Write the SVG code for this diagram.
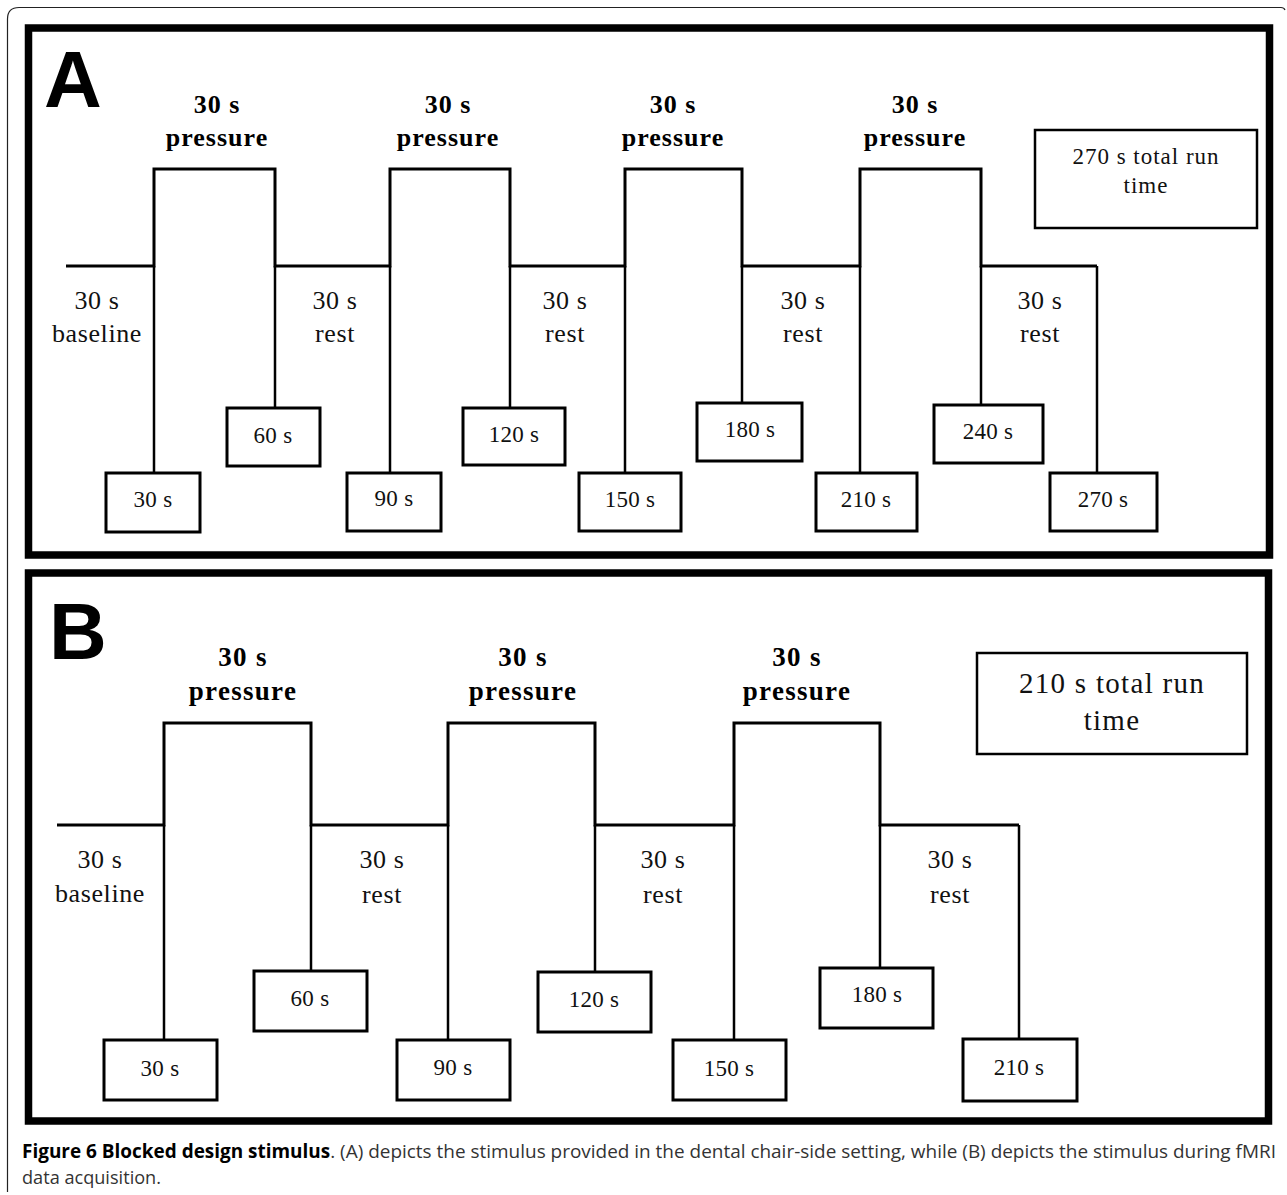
<svg xmlns="http://www.w3.org/2000/svg" width="1287" height="1195" viewBox="0 0 1287 1195">
<style>
.frame{fill:none;stroke:#000;stroke-width:7.5}
.box{fill:#fff;stroke:#000;stroke-width:3}
.tbox{fill:#fff;stroke:#000;stroke-width:2.5}
.wave{fill:none;stroke:#000;stroke-width:3;stroke-linejoin:miter}
.drop{fill:none;stroke:#000;stroke-width:2.5}
.bt{font-family:"Liberation Serif",serif;font-weight:bold;font-size:26px;letter-spacing:1px;text-anchor:middle;fill:#000}
.btb{font-family:"Liberation Serif",serif;font-weight:bold;font-size:27px;letter-spacing:1.3px;text-anchor:middle;fill:#000}
.rt{font-family:"Liberation Serif",serif;font-size:26px;letter-spacing:0.6px;text-anchor:middle;fill:#111}
.bx{font-family:"Liberation Serif",serif;font-size:23px;letter-spacing:0.3px;text-anchor:middle;fill:#111}
.tt{font-family:"Liberation Serif",serif;font-size:23px;letter-spacing:1px;text-anchor:middle;fill:#111}
.ttb{font-family:"Liberation Serif",serif;font-size:29px;letter-spacing:1.3px;text-anchor:middle;fill:#111}
.letter{font-family:"Liberation Sans",Arial,sans-serif;font-weight:bold;font-size:80px;fill:#000}
.cap{font-family:"Open Sans",sans-serif;font-size:19px;fill:#333}
</style>
<rect width="1287" height="1195" fill="#fff"/>
<path d="M7.5,1192 V19 Q7.5,7.5 19,7.5 H1281 Q1284,7.5 1285,10" fill="none" stroke="#222" stroke-width="1.2"/>

<g id="panelA">
<rect class="frame" x="28.5" y="28" width="1241" height="527"/>
<text class="letter" x="44" y="107">A</text>
</g>
<g id="panelB">
<rect class="frame" x="28.5" y="573" width="1240" height="548"/>
<text class="letter" x="49" y="659">B</text>
</g>

<g id="connectors">
<path class="wave" d="M66,266 H154 V169 H275 V266 H390 V169 H510 V266 H625 V169 H742 V266 H860 V169 H981 V266 H1097"/>
<path class="drop" d="M1097,266 V472 M154,266 V472 M275,266 V407 M390,266 V472 M510,266 V408 M625,266 V472 M742,266 V403 M860,266 V472 M981,266 V405"/>
<path class="wave" d="M57,825 H164 V723 H311 V825 H448 V723 H595 V825 H734 V723 H880 V825 H1019"/>
<path class="drop" d="M1019,825 V1039 M164,825 V1040 M311,825 V971 M448,825 V1040 M595,825 V972 M734,825 V1040 M880,825 V968"/>
</g>

<g id="A-labels">
<g id="A-p1"><text class="bt" x="217" y="113">30 s</text><text class="bt" x="217" y="146">pressure</text></g>
<g id="A-p2"><text class="bt" x="448" y="113">30 s</text><text class="bt" x="448" y="146">pressure</text></g>
<g id="A-p3"><text class="bt" x="673" y="113">30 s</text><text class="bt" x="673" y="146">pressure</text></g>
<g id="A-p4"><text class="bt" x="915" y="113">30 s</text><text class="bt" x="915" y="146">pressure</text></g>
<g id="A-base"><text class="rt" x="97" y="309">30 s</text><text class="rt" x="97" y="342">baseline</text></g>
<g id="A-r1"><text class="rt" x="335" y="309">30 s</text><text class="rt" x="335" y="342">rest</text></g>
<g id="A-r2"><text class="rt" x="565" y="309">30 s</text><text class="rt" x="565" y="342">rest</text></g>
<g id="A-r3"><text class="rt" x="803" y="309">30 s</text><text class="rt" x="803" y="342">rest</text></g>
<g id="A-r4"><text class="rt" x="1040" y="309">30 s</text><text class="rt" x="1040" y="342">rest</text></g>
</g>

<g id="A-t30"><rect class="box" x="106" y="473" width="94" height="59"/><text class="bx" x="153" y="507">30 s</text></g>
<g id="A-t60"><rect class="box" x="227" y="408" width="93" height="58"/><text class="bx" x="273" y="443">60 s</text></g>
<g id="A-t90"><rect class="box" x="347" y="473" width="94" height="58"/><text class="bx" x="394" y="506">90 s</text></g>
<g id="A-t120"><rect class="box" x="463" y="408" width="102" height="57"/><text class="bx" x="514" y="442">120 s</text></g>
<g id="A-t150"><rect class="box" x="579" y="473" width="102" height="58"/><text class="bx" x="630" y="507">150 s</text></g>
<g id="A-t180"><rect class="box" x="697" y="403" width="105" height="58"/><text class="bx" x="750" y="437">180 s</text></g>
<g id="A-t210"><rect class="box" x="816" y="473" width="101" height="58"/><text class="bx" x="866" y="507">210 s</text></g>
<g id="A-t240"><rect class="box" x="934" y="405" width="109" height="58"/><text class="bx" x="988" y="439">240 s</text></g>
<g id="A-t270"><rect class="box" x="1050" y="473" width="107" height="58"/><text class="bx" x="1103" y="507">270 s</text></g>
<g id="A-total"><rect class="tbox" x="1035" y="130" width="222" height="98"/><text class="tt" x="1146" y="164">270 s total run</text><text class="tt" x="1146" y="193">time</text></g>

<g id="B-labels">
<g id="B-p1"><text class="btb" x="243" y="666">30 s</text><text class="btb" x="243" y="700">pressure</text></g>
<g id="B-p2"><text class="btb" x="523" y="666">30 s</text><text class="btb" x="523" y="700">pressure</text></g>
<g id="B-p3"><text class="btb" x="797" y="666">30 s</text><text class="btb" x="797" y="700">pressure</text></g>
<g id="B-base"><text class="rt" x="100" y="868">30 s</text><text class="rt" x="100" y="902">baseline</text></g>
<g id="B-r1"><text class="rt" x="382" y="868">30 s</text><text class="rt" x="382" y="903">rest</text></g>
<g id="B-r2"><text class="rt" x="663" y="868">30 s</text><text class="rt" x="663" y="903">rest</text></g>
<g id="B-r3"><text class="rt" x="950" y="868">30 s</text><text class="rt" x="950" y="903">rest</text></g>
</g>

<g id="B-t30"><rect class="box" x="104" y="1040" width="113" height="60"/><text class="bx" x="160" y="1076">30 s</text></g>
<g id="B-t60"><rect class="box" x="254" y="971" width="113" height="60"/><text class="bx" x="310" y="1006">60 s</text></g>
<g id="B-t90"><rect class="box" x="397" y="1040" width="113" height="60"/><text class="bx" x="453" y="1075">90 s</text></g>
<g id="B-t120"><rect class="box" x="538" y="972" width="113" height="60"/><text class="bx" x="594" y="1007">120 s</text></g>
<g id="B-t150"><rect class="box" x="673" y="1040" width="113" height="60"/><text class="bx" x="729" y="1076">150 s</text></g>
<g id="B-t180"><rect class="box" x="820" y="968" width="113" height="60"/><text class="bx" x="877" y="1002">180 s</text></g>
<g id="B-t210"><rect class="box" x="963" y="1039" width="114" height="62"/><text class="bx" x="1019" y="1075">210 s</text></g>
<g id="B-total"><rect class="tbox" x="977" y="653" width="270" height="101"/><text class="ttb" x="1112" y="693">210 s total run</text><text class="ttb" x="1112" y="730">time</text></g>

<g id="caption">
<text class="cap" x="22" y="1158" textLength="1254" lengthAdjust="spacingAndGlyphs"><tspan font-weight="bold" fill="#000">Figure 6 Blocked design stimulus</tspan>. (A) depicts the stimulus provided in the dental chair-side setting, while (B) depicts the stimulus during fMRI</text>
<text class="cap" x="22" y="1184" textLength="139" lengthAdjust="spacingAndGlyphs">data acquisition.</text>
</g>
</svg>
